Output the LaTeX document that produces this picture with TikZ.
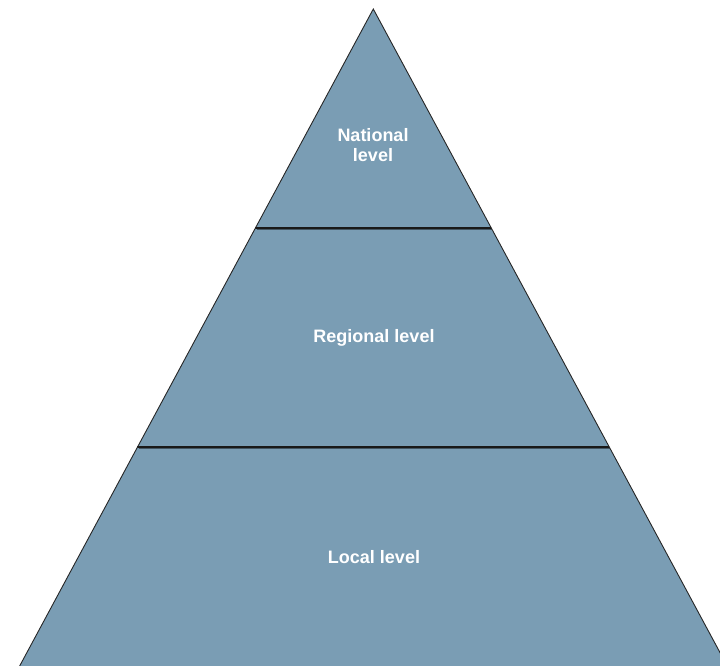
\documentclass[tikz,border=0pt]{standalone}
\usepackage{fontspec}
\setmainfont{Liberation Sans}
\definecolor{pyr}{HTML}{7A9DB4}
\begin{document}
\begin{tikzpicture}[x=1pt,y=-1pt,
  lvl/.style={font=\fontsize{18}{20.5}\selectfont\bfseries, text=white, align=center, inner sep=0pt},
  edge/.style={line width=0.9pt, black!85},
  divider/.style={line width=1.4pt, black!90},
  dividershade/.style={line width=1.2pt, black!45!pyr}]
\useasboundingbox (0,0) rectangle (720,665);
\clip (0,0) rectangle (720,665);
\coordinate (apex) at (373.3,9);
\coordinate (bl) at (17.5,670);
\coordinate (br) at (729.4,670);
\coordinate (l1) at (255.3,228);
\coordinate (r1) at (491.3,228);
\coordinate (l1s) at (256.5,229.6);
\coordinate (r1s) at (491.8,229.6);
\coordinate (l2) at (137.4,447);
\coordinate (r2) at (609.2,447);
\coordinate (l2s) at (138.6,448.6);
\coordinate (r2s) at (609.8,448.6);
\fill[pyr] (apex) -- (bl) -- (br) -- cycle;
\draw[dividershade] (l1s) -- (r1s);
\draw[dividershade] (l2s) -- (r2s);
\draw[divider] (l1) -- (r1);
\draw[divider] (l2) -- (r2);
\draw[edge] (bl) -- (apex) -- (br);
\node[lvl] (national) at (373,145) {National\\level};
\node[lvl] (regional) at (374,338) {Regional level};
\node[lvl] (local) at (374,557) {Local level};
\end{tikzpicture}
\end{document}
